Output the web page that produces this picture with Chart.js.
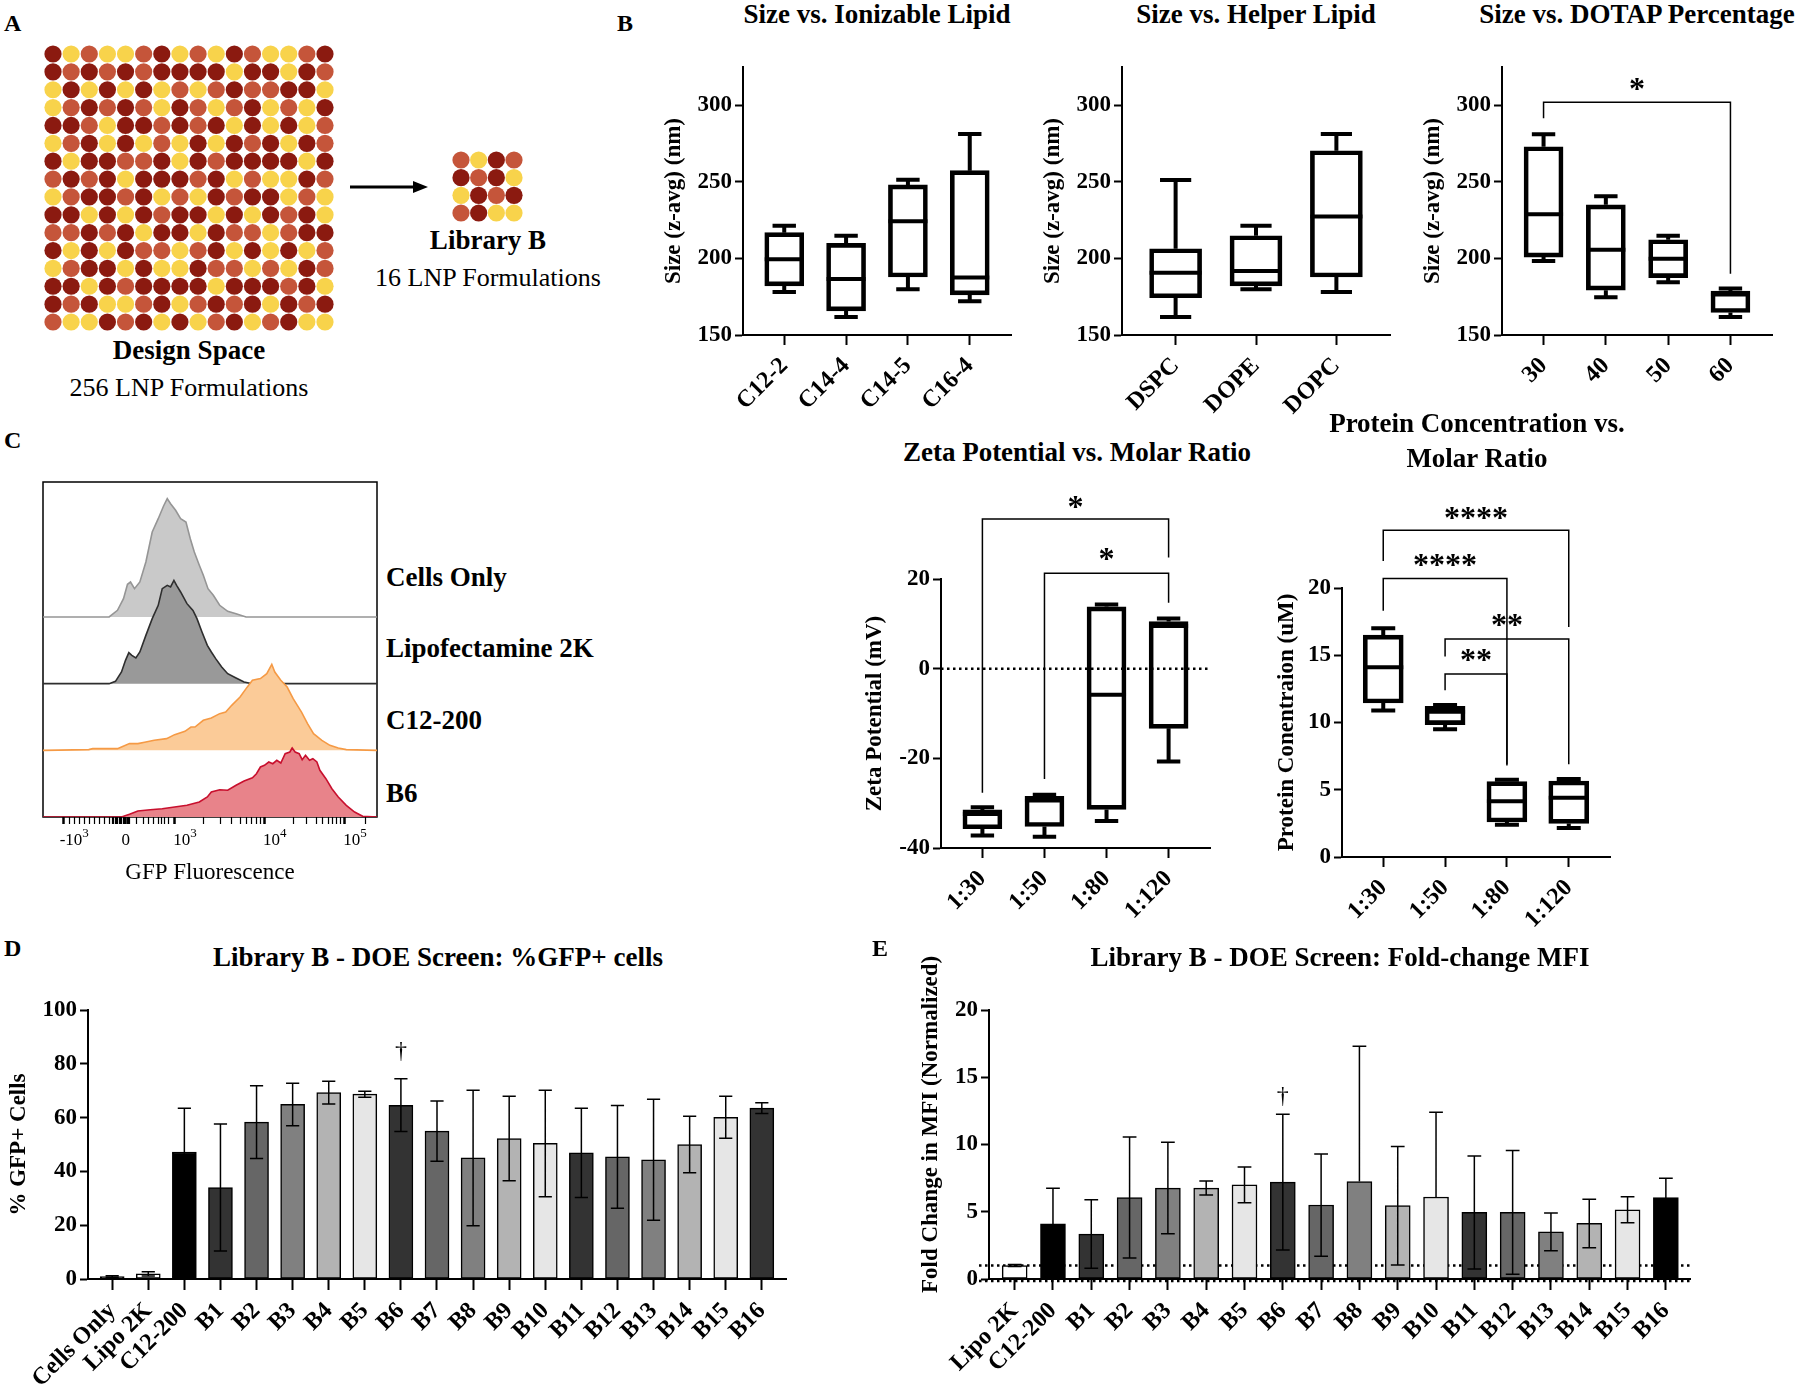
<!DOCTYPE html>
<html>
<head>
<meta charset="utf-8">
<script src="https://cdn.jsdelivr.net/npm/chart.js"></script>
<style>
  body { margin: 0; background: #fff; }
  #fig { position: relative; width: 1800px; height: 1388px; overflow: hidden; background: #fff;
         font-family: "Liberation Serif", "Times New Roman", serif; color: #000; }
  #fig canvas { position: absolute; }
  .t { position: absolute; white-space: nowrap; }
</style>
</head>
<body>
<div id="fig">
  <svg style="position:absolute;left:0;top:0" width="1800" height="1388">
    <line x1="350" y1="187" x2="416" y2="187" stroke="#000" stroke-width="3"/>
    <polygon points="428,187 413,181 413,193" fill="#000"/>
  </svg>
</div>
<script>
// ---- panel A : design space / library (D = dark red, O = orange, Y = yellow)
const designRows = [
  'DYOYYODYOYDOYYOD', 'DODODODDDDYDDYDO', 'YDYDYDYOYODOODDY', 'YODODOYDOYODYOYD',
  'DDOYDDODODYDYDYO', 'YODYDYOYDYDODYDO', 'DYDDOODYDODDDDYD', 'ODODYDDDODYOYYDO',
  'YODDODYOYDODDYOY', 'DDYDYDODDYDYDODY', 'OODODYDDYDOOYODD', 'DYDYDOOYODYDYDYO',
  'YODDYDYYDOOYOYDO', 'DDYDODDDDYDDDODY', 'DODYYODYODODYDOD', 'OYYDODYDYODYODYY'
];
const libraryRows = ['OYDO', 'DODY', 'YDOD', 'ODYY'];

// ---- panel B : size box plots (min, q1, median, q3, max)
const ionCats = ['C12-2', 'C14-4', 'C14-5', 'C16-4'];
const ionMin = [178.0, 161.7, 179.9, 172.1];
const ionQ1  = [182.1, 165.8, 187.9, 176.2];
const ionMed = [199.4, 186.6, 224.3, 187.5];
const ionQ3  = [216.8, 209.8, 248.0, 257.3];
const ionMax = [221.3, 214.8, 251.4, 281.3];

const helperCats = ['DSPC', 'DOPE', 'DOPC'];
const helperMin = [161.7, 179.9, 178.0];
const helperQ1  = [174.3, 182.1, 187.9];
const helperMed = [190.7, 191.8, 227.4];
const helperQ3  = [206.3, 214.8, 270.3];
const helperMax = [251.2, 221.3, 281.3];

const dotapCats = ['30', '40', '50', '60'];
const dotapMin = [198.3, 174.7, 184.5, 161.7];
const dotapQ1  = [200.9, 179.3, 187.5, 164.7];
const dotapMed = [228.9, 205.7, 199.8, 176.4];
const dotapQ3  = [272.9, 235.0, 212.2, 178.6];
const dotapMax = [281.1, 240.6, 214.8, 180.3];
const sizeTicks = [150, 200, 250, 300];
// brackets: [from, to, bar height, left foot, right foot, stars, star height]
const dotapSig = [[0, 3, 302, 291.5, 190, '*', 313.6]];

// ---- panel C : zeta potential & protein concentration
const ratioCats = ['1:30', '1:50', '1:80', '1:120'];
const zetaMin = [-37.2, -37.5, -34.0, -20.7];
const zetaQ1  = [-35.7, -35.2, -31.4, -13.3];
const zetaMed = [-32.4, -29.4, -5.8, 9.5];
const zetaQ3  = [-31.5, -28.5, 13.8, 10.5];
const zetaMax = [-30.9, -28.1, 14.3, 11.2];
const zetaTicks = [-40, -20, 0, 20];
const zetaSig = [[0, 3, 33.4, -27.7, 24.8, '*', 37.2], [1, 3, 21.3, -24.6, 14.7, '*', 25.6]];

const protMin = [10.9, 9.5, 2.4, 2.16];
const protQ1  = [11.45, 9.84, 2.6, 2.5];
const protMed = [14.1, 10.8, 4.14, 4.4];
const protQ3  = [16.5, 11.2, 5.6, 5.65];
const protMax = [17.0, 11.3, 5.75, 5.8];
const protTicks = [0, 5, 10, 15, 20];
const protSig = [[0, 3, 24.3, 22.0, 17.1, '****', 25.6], [0, 2, 20.7, 18.3, 6.8, '****', 22.1],
                 [1, 3, 16.2, 14.9, 6.9, '**', 17.6], [1, 2, 13.6, 12.4, 6.9, '**', 15.0]];

// ---- flow histograms (x in display channel units 0-1000, y = event height)
const flowNames = ['Cells Only', 'Lipofectamine 2K', 'C12-200', 'B6'];
const cellsX = [0, 198, 223, 241, 253, 262, 274, 290, 308, 327, 345, 361, 372, 382, 397, 412, 428, 441, 453, 468, 480, 494, 510, 529, 553, 578, 608, 1000];
const cellsY = [0, 0, 6.7, 18.3, 32.7, 35, 28.3, 35, 55, 85, 98.3, 111, 118.3, 113.3, 106.7, 98.3, 95, 78.3, 65, 51.7, 41.7, 28.3, 21.7, 11.7, 5.7, 3.3, 0, 0];
const lipoX = [0, 198, 217, 235, 247, 257, 266, 278, 290, 308, 327, 345, 357, 372, 382, 392, 400, 412, 431, 449, 461, 476, 492, 504, 517, 535, 553, 578, 602, 627, 1000];
const lipoY = [0, 0, 2.3, 11.7, 23.3, 31, 28.3, 25.7, 31.7, 48.3, 65, 78.3, 95, 98.3, 96.7, 103.3, 98.3, 91.7, 80, 73.3, 65, 51.7, 38.3, 31.7, 25, 16.7, 10, 5.7, 1.7, 0, 0];
const c12X = [0, 137, 149, 223, 235, 259, 284, 308, 333, 370, 394, 425, 443, 455, 480, 504, 529, 547, 565, 590, 608, 627, 651, 670, 685, 694, 712, 731, 749, 774, 792, 810, 835, 859, 884, 908, 1000];
const c12Y = [0, 0.7, 1.7, 1.7, 3.3, 6.7, 6.7, 8.3, 10, 11.7, 15.7, 19, 23.3, 23.3, 30, 32.3, 36.7, 38.3, 45, 53.3, 61.7, 70, 71.7, 76.7, 86, 78.3, 70, 63.3, 51.7, 38.3, 26.7, 16.7, 10, 5, 2.3, 0.7, 0];
const b6X = [0, 235, 259, 284, 321, 357, 394, 431, 468, 492, 504, 529, 553, 578, 602, 627, 639, 651, 663, 676, 688, 700, 712, 725, 739, 746, 755, 767, 776, 786, 798, 808, 820, 829, 847, 865, 884, 908, 933, 957, 1000];
const b6Y = [0, 0, 2.7, 6, 7.3, 8.3, 10, 11.7, 15, 20, 25, 27.3, 26.7, 31.7, 36, 39.3, 43.3, 50, 51.7, 55, 53.3, 56.7, 54, 63.3, 65, 69, 65, 63.3, 57.3, 61.7, 56.7, 58.3, 55, 46.7, 38.3, 28.3, 20, 11.7, 5, 0.7, 0];
const flowMajor = [62, 248, 393, 662, 902];
const flowBase = ['-10', '0', '10', '10', '10'];
const flowExp = ['3', '', '3', '4', '5'];
const flowMinor = [80, 95, 110, 125, 140, 155, 170, 185, 200, 207, 212, 216, 220, 224, 228, 232, 236, 240, 244, 252, 256,
                   260, 280, 300, 315, 330, 345, 355, 365, 375, 480, 530, 565, 590, 610, 625, 638, 650,
                   750, 790, 818, 838, 855, 868, 880, 890, 965];

// ---- panel D : %GFP+ cells (mean, SD)
const gfpCats = ['Cells Only', 'Lipo 2K', 'C12-200', 'B1', 'B2', 'B3', 'B4', 'B5', 'B6', 'B7', 'B8', 'B9', 'B10', 'B11', 'B12', 'B13', 'B14', 'B15', 'B16'];
const gfpMean = [0.9, 1.9, 47.2, 34.0, 58.3, 64.9, 69.3, 68.7, 64.6, 55.0, 45.0, 52.2, 50.4, 46.9, 45.4, 44.3, 50.0, 60.1, 63.5];
const gfpSd   = [0.3, 0.8, 16.3, 23.6, 13.5, 7.9, 4.2, 1.1, 9.8, 11.2, 25.2, 15.7, 19.8, 16.6, 19.1, 22.5, 10.5, 7.8, 2.0];
const gfpTicks = [0, 20, 40, 60, 80, 100];

// ---- panel E : fold change MFI (mean, SD)
const mfiCats = ['Lipo 2K', 'C12-200', 'B1', 'B2', 'B3', 'B4', 'B5', 'B6', 'B7', 'B8', 'B9', 'B10', 'B11', 'B12', 'B13', 'B14', 'B15', 'B16'];
const mfiMean = [1.0, 4.1, 3.34, 6.06, 6.76, 6.76, 7.0, 7.2, 5.5, 7.25, 5.45, 6.1, 4.95, 4.95, 3.5, 4.13, 5.15, 6.06];
const mfiSd   = [0.07, 2.65, 2.55, 4.5, 3.4, 0.52, 1.33, 5.05, 3.8, 10.05, 4.4, 6.3, 4.2, 4.6, 1.4, 1.8, 0.96, 1.44];
const mfiTicks = [0, 5, 10, 15, 20];

// ---------------------------------------------------------------
const fig = document.getElementById('fig');
const SERIF = '"Liberation Serif", "Times New Roman", serif';
Chart.defaults.font.family = SERIF;
Chart.defaults.color = '#000';

const dotColors = { D: '#8B1A10', O: '#C5553A', Y: '#F8D34B' };
const barShades = ['#333333', '#666666', '#808080', '#b3b3b3', '#e6e6e6'];

function txt(s, x, base, size, bold, center) {
  const d = document.createElement('div');
  d.className = 't';
  d.textContent = s;
  d.style.fontSize = size + 'px';
  d.style.lineHeight = size + 'px';
  d.style.fontWeight = bold ? 'bold' : 'normal';
  d.style.top = (base - 0.8375 * size) + 'px';
  d.style.left = x + 'px';
  if (center) d.style.transform = 'translateX(-50%)';
  fig.appendChild(d);
}

function canvasAt(area, m) {
  const cv = document.createElement('canvas');
  const W = area[2] - area[0] + m.l + m.r, H = area[3] - area[1] + m.t + m.b;
  cv.width = W; cv.height = H;
  cv.style.left = (area[0] - m.l) + 'px'; cv.style.top = (area[1] - m.t) + 'px';
  cv.style.width = W + 'px'; cv.style.height = H + 'px';
  fig.appendChild(cv);
  return cv;
}

function baseOpts(pad) {
  return { responsive: false, animation: false, devicePixelRatio: 1,
    layout: { padding: pad },
    plugins: { legend: { display: false }, tooltip: { enabled: false } } };
}

function yAxis(m, min, max, ticks, title) {
  return { type: 'linear', min: min, max: max,
    afterBuildTicks: s => { s.ticks = ticks.map(v => ({ value: v })); },
    afterFit: s => { s.width = m.l; },
    border: { display: true, color: '#000', width: 2 },
    grid: { drawOnChartArea: false, drawTicks: true, tickLength: 8, tickColor: '#000', tickWidth: 2 },
    ticks: { color: '#000', padding: 3, font: { size: 23, weight: 'bold' } },
    title: { display: true, text: title, color: '#000', padding: 0, font: { size: 23, weight: 'bold' } } };
}

function xAxis(m, cats, lo, hi, tl) {
  return { type: 'linear', min: -lo, max: cats.length - 1 + hi, offset: false,
    afterBuildTicks: s => { s.ticks = cats.map((c, i) => ({ value: i })); },
    afterFit: s => { s.height = m.b; },
    border: { display: true, color: '#000', width: 2 },
    grid: { offset: false, drawOnChartArea: false, drawTicks: true, tickLength: tl, tickColor: '#000', tickWidth: 2 },
    ticks: { autoSkip: false, minRotation: 45, maxRotation: 45, padding: 7, color: '#000',
             font: { size: 24, weight: 'bold' }, callback: v => cats[v] } };
}

function line(ctx, x1, y1, x2, y2) { ctx.moveTo(x1, y1); ctx.lineTo(x2, y2); }

// whiskers + medians on top of the floating bars
function boxPlugin(st, w) {
  return { id: 'boxes', afterDatasetsDraw(chart) {
    const { ctx, scales: { x, y } } = chart;
    ctx.save();
    ctx.strokeStyle = '#000'; ctx.lineWidth = 4;
    ctx.beginPath();
    st.med.forEach((md, i) => {
      const cx = x.getPixelForValue(i), hw = w / 2, cw = w * 0.3;
      line(ctx, cx - hw, y.getPixelForValue(md), cx + hw, y.getPixelForValue(md));
      line(ctx, cx, y.getPixelForValue(st.q3[i]), cx, y.getPixelForValue(st.max[i]));
      line(ctx, cx - cw, y.getPixelForValue(st.max[i]), cx + cw, y.getPixelForValue(st.max[i]));
      line(ctx, cx, y.getPixelForValue(st.q1[i]), cx, y.getPixelForValue(st.min[i]));
      line(ctx, cx - cw, y.getPixelForValue(st.min[i]), cx + cw, y.getPixelForValue(st.min[i]));
    });
    ctx.stroke();
    ctx.restore();
  } };
}

function sigPlugin(list) {
  return { id: 'sig', afterDatasetsDraw(chart) {
    const { ctx, scales: { x, y } } = chart;
    ctx.save();
    ctx.strokeStyle = '#000'; ctx.lineWidth = 1.5; ctx.fillStyle = '#000';
    ctx.font = 'bold 32px ' + SERIF; ctx.textAlign = 'center'; ctx.textBaseline = 'alphabetic';
    list.forEach(b => {
      const xa = x.getPixelForValue(b[0]), xb = x.getPixelForValue(b[1]), yt = y.getPixelForValue(b[2]);
      ctx.beginPath();
      ctx.moveTo(xa, y.getPixelForValue(b[3])); ctx.lineTo(xa, yt); ctx.lineTo(xb, yt); ctx.lineTo(xb, y.getPixelForValue(b[4]));
      ctx.stroke();
      ctx.fillText(b[5], (xa + xb) / 2, y.getPixelForValue(b[6]) + 15);
    });
    ctx.restore();
  } };
}

function dotPlugin(vals, ext) {
  return { id: 'dots', beforeDatasetsDraw(chart) {
    const { ctx, chartArea: a, scales: { y } } = chart;
    ctx.save();
    ctx.strokeStyle = '#000'; ctx.lineWidth = 2.5; ctx.setLineDash([2.5, 3.5]);
    vals.forEach(v => {
      const py = y.getPixelForValue(v) + (v === 0 && ext ? 2 : 0);
      ctx.beginPath(); ctx.moveTo(a.left - ext, py); ctx.lineTo(a.right, py); ctx.stroke();
    });
    ctx.restore();
  } };
}

function errPlugin(mean, sd, cap, dagIdx, dagVal) {
  return { id: 'err', afterDatasetsDraw(chart) {
    const { ctx, scales: { x, y } } = chart;
    ctx.save();
    ctx.strokeStyle = '#000'; ctx.lineWidth = 1.5;
    ctx.beginPath();
    mean.forEach((m, i) => {
      const px = x.getPixelForValue(i), pm = y.getPixelForValue(m);
      const hi = y.getPixelForValue(m + sd[i]);
      line(ctx, px, pm, px, hi); line(ctx, px - cap / 2, hi, px + cap / 2, hi);
      if (m - sd[i] >= y.min) {
        const lo = y.getPixelForValue(m - sd[i]);
        line(ctx, px, pm, px, lo); line(ctx, px - cap / 2, lo, px + cap / 2, lo);
      }
    });
    ctx.stroke();
    ctx.fillStyle = '#000'; ctx.font = '24px ' + SERIF; ctx.textAlign = 'center';
    ctx.fillText('\u2020', x.getPixelForValue(dagIdx), y.getPixelForValue(dagVal) + 7);
    ctx.restore();
  } };
}

function boxChart(area, m, cats, st, yr, ticks, title, w, sig, dots) {
  const cv = canvasAt(area, m);
  const opts = baseOpts({ left: 0, top: m.t, right: m.r, bottom: 0 });
  opts.scales = { x: xAxis(m, cats, 0.667, 0.667, 10), y: yAxis(m, yr[0], yr[1], ticks, title) };
  return new Chart(cv, {
    type: 'bar',
    data: { datasets: [{ data: cats.map((c, i) => ({ x: i, y: [st.q1[i], st.q3[i]] })),
      backgroundColor: 'rgba(0,0,0,0)', borderColor: '#000', borderWidth: 4, borderSkipped: false, barThickness: w }] },
    options: opts,
    plugins: [dotPlugin(dots, 0), boxPlugin(st, w), sigPlugin(sig)]
  });
}

function barChart(area, m, cats, mean, sd, colors, ymax, ticks, title, w, hi, dagIdx, dagVal, dots) {
  const cv = canvasAt(area, m);
  const opts = baseOpts({ left: 0, top: m.t, right: m.r, bottom: 0 });
  opts.scales = { x: xAxis(m, cats, 0.67, hi, 11), y: yAxis(m, 0, ymax, ticks, title) };
  return new Chart(cv, {
    type: 'bar',
    data: { datasets: [{ data: cats.map((c, i) => ({ x: i, y: mean[i] })),
      backgroundColor: colors, borderColor: '#000', borderWidth: 1.5, borderSkipped: false, barThickness: w }] },
    options: opts,
    plugins: [dotPlugin(dots, 10), errPlugin(mean, sd, w * 0.55, dagIdx, dagVal)]
  });
}

function dotGrid(rows, area, r) {
  const cv = canvasAt(area, { l: 12, r: 12, t: 12, b: 12 });
  const pts = [], cols = [];
  rows.forEach((row, j) => [...row].forEach((ch, i) => { pts.push({ x: i, y: j }); cols.push(dotColors[ch]); }));
  const opts = baseOpts(12);
  opts.scales = {
    x: { type: 'linear', min: 0, max: rows[0].length - 1, display: false },
    y: { type: 'linear', min: 0, max: rows.length - 1, reverse: true, display: false } };
  return new Chart(cv, { type: 'scatter',
    data: { datasets: [{ data: pts, pointBackgroundColor: cols, pointBorderWidth: 0, pointRadius: r, clip: false }] },
    options: opts });
}

// ---------------- panel A
txt('A', 4, 31, 24, true);
dotGrid(designRows, [53, 54, 325, 322], 8.6);
dotGrid(libraryRows, [461, 160, 514, 213], 8.6);
txt('Library B', 488, 250, 27, true, true);
txt('16 LNP Formulations', 488, 287, 26, false, true);
txt('Design Space', 189, 360, 27, true, true);
txt('256 LNP Formulations', 189, 397, 26, false, true);

// ---------------- panel B
txt('B', 617, 31, 24, true);
const mB = { l: 83, r: 25, t: 18, b: 100 };
txt('Size vs. Ionizable Lipid', 877, 24, 27, true, true);
boxChart([743, 67, 1011, 335], mB, ionCats,
  { min: ionMin, q1: ionQ1, med: ionMed, q3: ionQ3, max: ionMax }, [150, 325], sizeTicks, 'Size (z-avg) (nm)', 39, [], []);
txt('Size vs. Helper Lipid', 1256, 24, 27, true, true);
boxChart([1122, 67, 1390, 335], mB, helperCats,
  { min: helperMin, q1: helperQ1, med: helperMed, q3: helperQ3, max: helperMax }, [150, 325], sizeTicks, 'Size (z-avg) (nm)', 52, [], []);
txt('Size vs. DOTAP Percentage', 1637, 24, 27, true, true);
boxChart([1502, 67, 1772, 335], mB, dotapCats,
  { min: dotapMin, q1: dotapQ1, med: dotapMed, q3: dotapQ3, max: dotapMax }, [150, 325], sizeTicks, 'Size (z-avg) (nm)', 39, dotapSig, []);

txt('Zeta Potential vs. Molar Ratio', 1077, 462, 27, true, true);
boxChart([941, 579, 1210, 848], { l: 80, r: 25, t: 90, b: 90 }, ratioCats,
  { min: zetaMin, q1: zetaQ1, med: zetaMed, q3: zetaQ3, max: zetaMax }, [-40, 20], zetaTicks, 'Zeta Potential (mV)', 39, zetaSig, [0]);
txt('Protein Concentration vs.', 1477, 433, 27, true, true);
txt('Molar Ratio', 1477, 468, 27, true, true);
boxChart([1342, 588, 1610, 857], { l: 69, r: 25, t: 90, b: 90 }, ratioCats,
  { min: protMin, q1: protQ1, med: protMed, q3: protQ3, max: protMax }, [0, 20], protTicks, 'Protein Conentraion (uM)', 40, protSig, []);

// ---------------- panel C : flow histograms
txt('C', 4, 448, 24, true);
(function () {
  const area = [43, 482, 377, 817];
  const cv = canvasAt(area, { l: 2, r: 2, t: 2, b: 70 });
  const step = 66.67;
  const series = [
    { xs: b6X, ys: b6Y, row: 3, line: '#C8102E', fill: '#E8838A' },
    { xs: c12X, ys: c12Y, row: 2, line: '#F59A45', fill: '#FBCB98' },
    { xs: lipoX, ys: lipoY, row: 1, line: '#2e2e2e', fill: '#999999' },
    { xs: cellsX, ys: cellsY, row: 0, line: '#959595', fill: '#c9c9c9' }
  ];
  const datasets = series.map(s => {
    const base = (3 - s.row) * step;
    return { type: 'line', data: s.xs.map((x, i) => ({ x: x, y: base + s.ys[i] })),
      borderColor: s.line, backgroundColor: s.fill, borderWidth: 1.6, pointRadius: 0, tension: 0,
      fill: { value: base } };
  });
  const allTicks = flowMajor.concat(flowMinor).sort((a, b) => a - b);
  const opts = baseOpts({ left: 2, right: 2, top: 2, bottom: 0 });
  opts.scales = {
    x: { type: 'linear', min: 0, max: 1000,
      afterBuildTicks: s => { s.ticks = allTicks.map(v => ({ value: v })); },
      afterFit: s => { s.height = 70; },
      border: { display: false },
      grid: { drawOnChartArea: false, drawTicks: true, tickLength: 7, tickColor: '#000',
              tickWidth: c => (flowMajor.includes(c.tick && c.tick.value) ? 2.5 : 1.2) },
      ticks: { display: false },
      title: { display: true, text: 'GFP Fluorescence', color: '#000', padding: 0, font: { size: 23 } } },
    y: { type: 'linear', min: 0, max: 335, display: false }
  };
  const frame = { id: 'frame', beforeDatasetsDraw(chart) {
    const { ctx, chartArea: a } = chart;
    ctx.save(); ctx.strokeStyle = '#000'; ctx.lineWidth = 1.5;
    ctx.strokeRect(a.left, a.top, a.right - a.left, a.bottom - a.top); ctx.restore();
  } };
  const labels = { id: 'flowlabels', afterDraw(chart) {
    const { ctx, chartArea: a, scales: { x } } = chart;
    ctx.save(); ctx.fillStyle = '#000'; ctx.textAlign = 'left'; ctx.textBaseline = 'alphabetic';
    flowMajor.forEach((v, i) => {
      const px = x.getPixelForValue(v), yb = a.bottom + 28;
      ctx.font = '17px ' + SERIF;
      const wb = ctx.measureText(flowBase[i]).width;
      const x0 = flowExp[i] ? px - (flowBase[i][0] === '-' ? 4 : 1) : px - wb / 2;
      ctx.fillText(flowBase[i], x0, yb);
      if (flowExp[i]) { ctx.font = '13px ' + SERIF; ctx.fillText(flowExp[i], x0 + wb, yb - 8); }
    });
    ctx.restore();
  } };
  new Chart(cv, { type: 'line', data: { datasets: datasets }, options: opts, plugins: [frame, labels] });
})();
txt(flowNames[0], 386, 587, 27, true);
txt(flowNames[1], 386, 658, 27, true);
txt(flowNames[2], 386, 730, 27, true);
txt(flowNames[3], 386, 803, 27, true);

// ---------------- panel D
txt('D', 4, 956, 24, true);
txt('Library B - DOE Screen:  %GFP+ cells', 438, 967, 27, true, true);
const gfpColors = gfpCats.map((c, i) => i === 0 || i === 2 ? '#000' : i === 1 ? '#fff' : barShades[(i - 3) % 5]);
barChart([88, 1010, 786, 1279], { l: 83, r: 25, t: 20, b: 105 }, gfpCats, gfpMean, gfpSd, gfpColors,
  100, gfpTicks, '% GFP+ Cells', 24, 0.67, 8, 84.8, []);

// ---------------- panel E
txt('E', 872, 956, 24, true);
txt('Library B - DOE Screen: Fold-change MFI', 1340, 967, 27, true, true);
const mfiColors = mfiCats.map((c, i) => i === 0 ? '#fff' : (i === 1 || i === 17) ? '#000' : barShades[(i - 2) % 5]);
// leading spaces lift the long title the way the original sits on the axis
barChart([989, 1010, 1690, 1279], { l: 72, r: 25, t: 70, b: 105 }, mfiCats, mfiMean, mfiSd, mfiColors,
  20, mfiTicks, '       Fold Change in MFI (Normalized)', 25, 0.63, 7, 13.6, [0, 1]);
</script>
</body>
</html>
